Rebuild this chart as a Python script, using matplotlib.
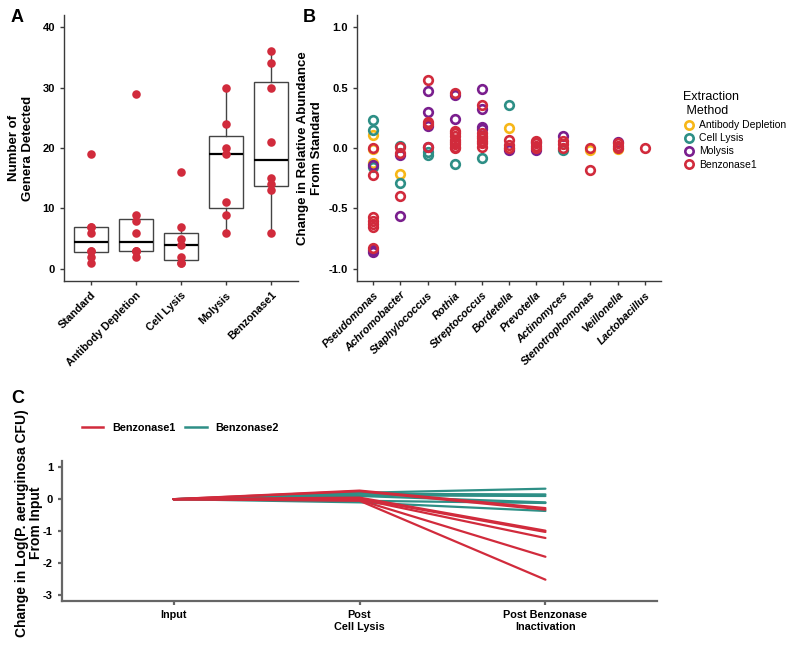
import matplotlib
matplotlib.use("Agg")
import matplotlib.pyplot as plt
from matplotlib.lines import Line2D
import numpy as np

plt.rcParams['font.family'] = ['Liberation Sans', 'DejaVu Sans']

# ---------------- Panel A data ----------------
methods_a = ['Standard', 'Antibody Depletion', 'Cell Lysis', 'Molysis', 'Benzonase1']
genera_standard = [1, 2, 3, 3, 6, 7, 7, 19]
genera_antibody = [2, 3, 3, 3, 6, 8, 9, 29]
genera_celllysis = [1, 1, 2, 4, 5, 7, 16]
genera_molysis = [6, 9, 11, 19, 20, 24, 30]
genera_benzonase1 = [6, 13, 14, 15, 21, 30, 34, 36]
a_yticks = [0, 10, 20, 30, 40]

# ---------------- Panel B data ----------------
genera_b = ['Pseudomonas', 'Achromobacter', 'Staphylococcus', 'Rothia', 'Streptococcus',
            'Bordetella', 'Prevotella', 'Actinomyces', 'Stenotrophomonas', 'Veillonella',
            'Lactobacillus']
b_methods = ['Antibody Depletion', 'Cell Lysis', 'Molysis', 'Benzonase1']
# values per genus (same order as genera_b)
b_antibody = [[0.106, -0.01, -0.12], [-0.214], [], [], [], [0.167, 0.0], [], [],
              [-0.02], [-0.01], []]
b_celllysis = [[0.233, 0.147, -0.16], [0.014, -0.29], [-0.03, -0.055], [-0.133], [-0.086],
               [0.353], [], [-0.014], [], [], []]
b_molysis = [[-0.14, -0.84, -0.86], [-0.055, -0.56], [0.475, 0.30, 0.18, 0.01],
             [0.436, 0.236], [0.486, 0.32, 0.175, 0.158], [-0.014], [0.05, -0.014],
             [0.103], [], [0.047], []]
b_benzonase1 = [[0.0, -0.22, -0.57, -0.60, -0.63, -0.65, -0.83], [0.005, -0.04, -0.40],
                [0.564, 0.217, 0.2, 0.005],
                [0.453, 0.14, 0.12, 0.1, 0.07, 0.05, 0.03, 0.01, 0.0],
                [0.353, 0.125, 0.1, 0.08, 0.06, 0.04, 0.01], [0.07, 0.028, 0.0],
                [0.06, 0.04, 0.02, 0.0], [0.06, 0.03, 0.0], [0.0, -0.186],
                [0.04, 0.02, 0.0], [0.0]]
b_yticks = [-1.0, -0.5, 0.0, 0.5, 1.0]

# ---------------- Panel C data ----------------
stages = ['Input', 'Post\nCell Lysis', 'Post Benzonase\nInactivation']
benz1_input = [0, 0, 0, 0, 0, 0, 0]
benz1_lysis = [0.27, 0.25, 0.05, 0.02, 0.0, -0.03, -0.05]
benz1_inact = [-0.28, -0.33, -0.99, -1.03, -1.22, -1.81, -2.53]
benz2_input = [0, 0, 0, 0, 0, 0]
benz2_lysis = [0.2, 0.17, 0.12, 0.1, -0.05, -0.1]
benz2_inact = [0.33, 0.15, 0.1, -0.1, -0.12, -0.37]
c_yticks = [-3, -2, -1, 0, 1]

RED = '#D12B3C'
TEAL = '#2E8F86'
YELLOW = '#F7B718'
PURPLE = '#7A1F8E'
AXC = '#3a3a3a'
TICK_FS = 8
LAB_FS = 9.5

W, H = 800, 645
fig = plt.figure(figsize=(W / 100, H / 100), dpi=100)


def px_axes(left, top, right, bottom):
    return fig.add_axes([left / W, 1 - bottom / H, (right - left) / W, (bottom - top) / H])


def style(ax, color=AXC, lw=1.0):
    for s in ['top', 'right']:
        ax.spines[s].set_visible(False)
    for s in ['left', 'bottom']:
        ax.spines[s].set_color(color)
        ax.spines[s].set_linewidth(lw)
    ax.tick_params(axis='both', colors=color, length=3, width=lw, labelcolor='black')


# ---------------- Panel A ----------------
axA = px_axes(64, 15, 298, 281)
data_a = [genera_standard, genera_antibody, genera_celllysis, genera_molysis, genera_benzonase1]
pos = np.arange(1, len(methods_a) + 1)
axA.boxplot(data_a, positions=pos, widths=0.75, showfliers=False, patch_artist=True,
            whis=1.5, showcaps=False,
            boxprops=dict(facecolor='white', edgecolor='#444444', linewidth=1.0),
            medianprops=dict(color='black', linewidth=1.6),
            whiskerprops=dict(color='#444444', linewidth=1.0), zorder=2)
for p, vals in zip(pos, data_a):
    axA.scatter([p] * len(vals), vals, s=38, color=RED, zorder=3, linewidths=0)
axA.set_xlim(0.4, 5.6)
axA.set_ylim(-2, 42)
axA.set_yticks(a_yticks)
axA.set_yticklabels([str(v) for v in a_yticks], fontsize=TICK_FS, fontweight='bold')
axA.set_xticks(pos)
axA.set_xticklabels(methods_a, rotation=45, ha='right', rotation_mode='anchor',
                    fontsize=7.8, fontweight='bold')
axA.set_ylabel('Number of\nGenera Detected', fontsize=LAB_FS, fontweight='bold', labelpad=6)
style(axA)

# ---------------- Panel B ----------------
axB = px_axes(357, 15, 661, 281)
b_series = [b_antibody, b_celllysis, b_molysis, b_benzonase1]
b_colors = [YELLOW, TEAL, PURPLE, RED]
for series, col in zip(b_series, b_colors):
    xs, ys = [], []
    for gi, vals in enumerate(series):
        xs += [gi + 1] * len(vals)
        ys += vals
    axB.plot(xs, ys, linestyle='none', marker='o', markersize=6.2, markerfacecolor='none',
             markeredgecolor=col, markeredgewidth=1.9, zorder=3)
axB.set_xlim(0.4, len(genera_b) + 0.6)
axB.set_ylim(-1.1, 1.1)
axB.set_yticks(b_yticks)
axB.set_yticklabels([f'{v:.1f}' for v in b_yticks], fontsize=TICK_FS, fontweight='bold')
axB.set_xticks(np.arange(1, len(genera_b) + 1))
axB.set_xticklabels(genera_b, rotation=45, ha='right', rotation_mode='anchor',
                    fontsize=7.8, fontweight='bold', style='italic')
axB.set_ylabel('Change in Relative Abundance\nFrom Standard', fontsize=LAB_FS,
               fontweight='bold', labelpad=4)
style(axB)

handles = [Line2D([], [], linestyle='none', marker='o', markersize=6, markerfacecolor='none',
                  markeredgecolor=c, markeredgewidth=1.9) for c in b_colors]
leg = fig.legend(handles, b_methods, loc='upper left', bbox_to_anchor=(676 / W, 1 - 84 / H),
                 frameon=False, title='Extraction\n Method', fontsize=7.5,
                 title_fontsize=9, handlelength=1.0, handletextpad=0.5,
                 labelspacing=0.3, borderpad=0.2)
leg._legend_box.align = 'left'

# ---------------- Panel C ----------------
axC = px_axes(62, 461, 657, 601)
xs_c = np.arange(len(stages))
for a, b, c in zip(benz2_input, benz2_lysis, benz2_inact):
    axC.plot(xs_c, [a, b, c], color=TEAL, lw=1.6, zorder=2, solid_capstyle='round')
for a, b, c in zip(benz1_input, benz1_lysis, benz1_inact):
    axC.plot(xs_c, [a, b, c], color=RED, lw=1.6, zorder=3, solid_capstyle='round')
axC.set_xlim(-0.6, 2.6)
axC.set_ylim(-3.2, 1.2)
axC.set_yticks(c_yticks)
axC.set_yticklabels([str(v) for v in c_yticks], fontsize=TICK_FS, fontweight='bold')
axC.set_xticks(xs_c)
axC.set_xticklabels(stages, fontsize=7.8, fontweight='bold')
style(axC, color='#666666', lw=1.6)
fig.text(29 / W, 1 - 523 / H, 'Change in Log(P. aeruginosa CFU)\nFrom Input', rotation=90,
         ha='center', va='center', multialignment='center', fontsize=10,
         fontweight='bold', linespacing=1.0)

c_handles = [Line2D([], [], color=RED, lw=1.8), Line2D([], [], color=TEAL, lw=1.8)]
fig.legend(c_handles, ['Benzonase1', 'Benzonase2'], loc='center left',
           bbox_to_anchor=(72 / W, 1 - 428 / H), ncol=2, frameon=False,
           prop=dict(size=7.8, weight='bold'), handlelength=2.0, handletextpad=0.8,
           columnspacing=0.9)

# panel letters
fig.text(11 / W, 1 - 22 / H, 'A', fontsize=13, fontweight='bold')
fig.text(303 / W, 1 - 22 / H, 'B', fontsize=13, fontweight='bold')
fig.text(11 / W, 1 - 403 / H, 'C', fontsize=13, fontweight='bold')

fig.savefig('out.png', dpi=100)
